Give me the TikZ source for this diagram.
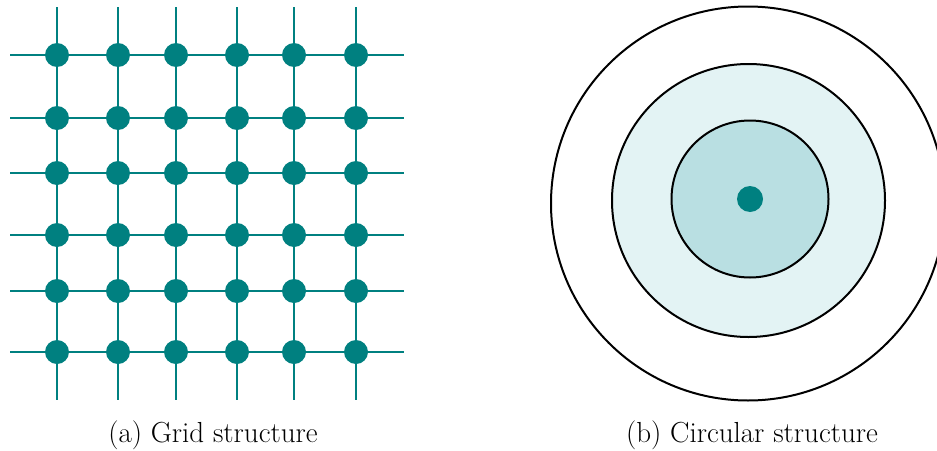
\documentclass[tikz,border=0pt]{standalone}
\definecolor{gridteal}{RGB}{0,128,128}
\definecolor{innerfill}{RGB}{185,223,226}
\definecolor{midfill}{RGB}{227,243,244}
\begin{document}
\begin{tikzpicture}[x=1pt,y=-1pt,
  gline/.style={draw=gridteal,line width=2pt},
  gdot/.style={circle,fill=gridteal,inner sep=0pt,minimum size=24pt},
  ring/.style={draw=black,line width=2pt},
  captext/.style={font=\fontsize{29}{34}\selectfont,anchor=base,inner sep=0pt}]
\useasboundingbox (0,0) rectangle (937,450);
\clip (0,0) rectangle (937,450);
% grid
\def\xs{57/1,118/2,176/3,237/4,294/5,356/6}
\def\ys{55/1,118/2,173/3,235/4,291/5,352/6}
\foreach \x/\i in \xs {
  \coordinate (vt\i) at (\x,7);
  \coordinate (vb\i) at (\x,400);
  \draw[gline] (vt\i) -- (vb\i);
}
\foreach \y/\j in \ys {
  \coordinate (hl\j) at (10,\y);
  \coordinate (hr\j) at (404,\y);
  \draw[gline] (hl\j) -- (hr\j);
}
\foreach \x/\i in \xs {
  \foreach \y/\j in \ys {
    \node[gdot] (d\i\j) at (\x,\y) {};
  }
}
\node[captext] (capa) at (213,442) {(a) Grid structure};
% circles
\draw[ring] (748,203.5) circle[radius=197];
\draw[ring,fill=midfill] (748.5,200.5) circle[radius=136.5];
\draw[ring,fill=innerfill] (750,199) circle[radius=78.5];
\node[circle,fill=gridteal,inner sep=0pt,minimum size=26pt] (cdot) at (750,199) {};
\node[captext] (capb) at (752,442) {(b) Circular structure};
\end{tikzpicture}
\end{document}
